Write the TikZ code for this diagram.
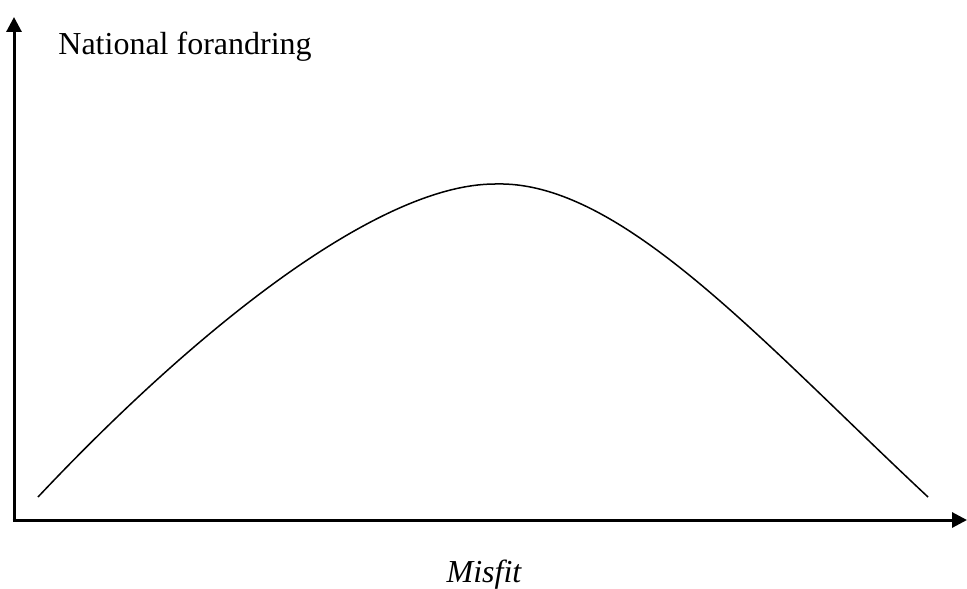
\documentclass[tikz,border=0pt]{standalone}
\usepackage{fontspec}
\setmainfont{Liberation Serif}
\usetikzlibrary{arrows.meta,positioning}

\begin{document}
\begin{tikzpicture}[x=0.5pt, y=-0.5pt,
        axis/.style={line width=1.5pt, -{Triangle[length=7.5pt,width=7.5pt]}},
        label/.style={font=\fontsize{16}{19}\selectfont, inner sep=0pt, anchor=base west}]
        \useasboundingbox (0,0) rectangle (967,588);

        \coordinate (origin) at (14,520);
        \coordinate (ytop) at (14,17);
        \coordinate (xend) at (967,520);

        \draw[axis] ([yshift=-0.75pt]origin) -- (ytop);
        \draw[axis] ([xshift=-0.75pt]origin) -- (xend);

        \node[label] (ylabel) at (58,55) {National forandring};
        \node[label, anchor=base] (xlabel) at (484,582) {\itshape Misfit};

        % the curve
        \coordinate (start) at (38,497);
        \coordinate (peak) at (495,184);
        \coordinate (stop) at (928,497);
        \draw[line width=0.75pt] (start) .. controls (200,325) and (380,184) .. (peak)
            .. controls (620,180) and (760,340) .. (stop);
    \end{tikzpicture}
\end{document}
